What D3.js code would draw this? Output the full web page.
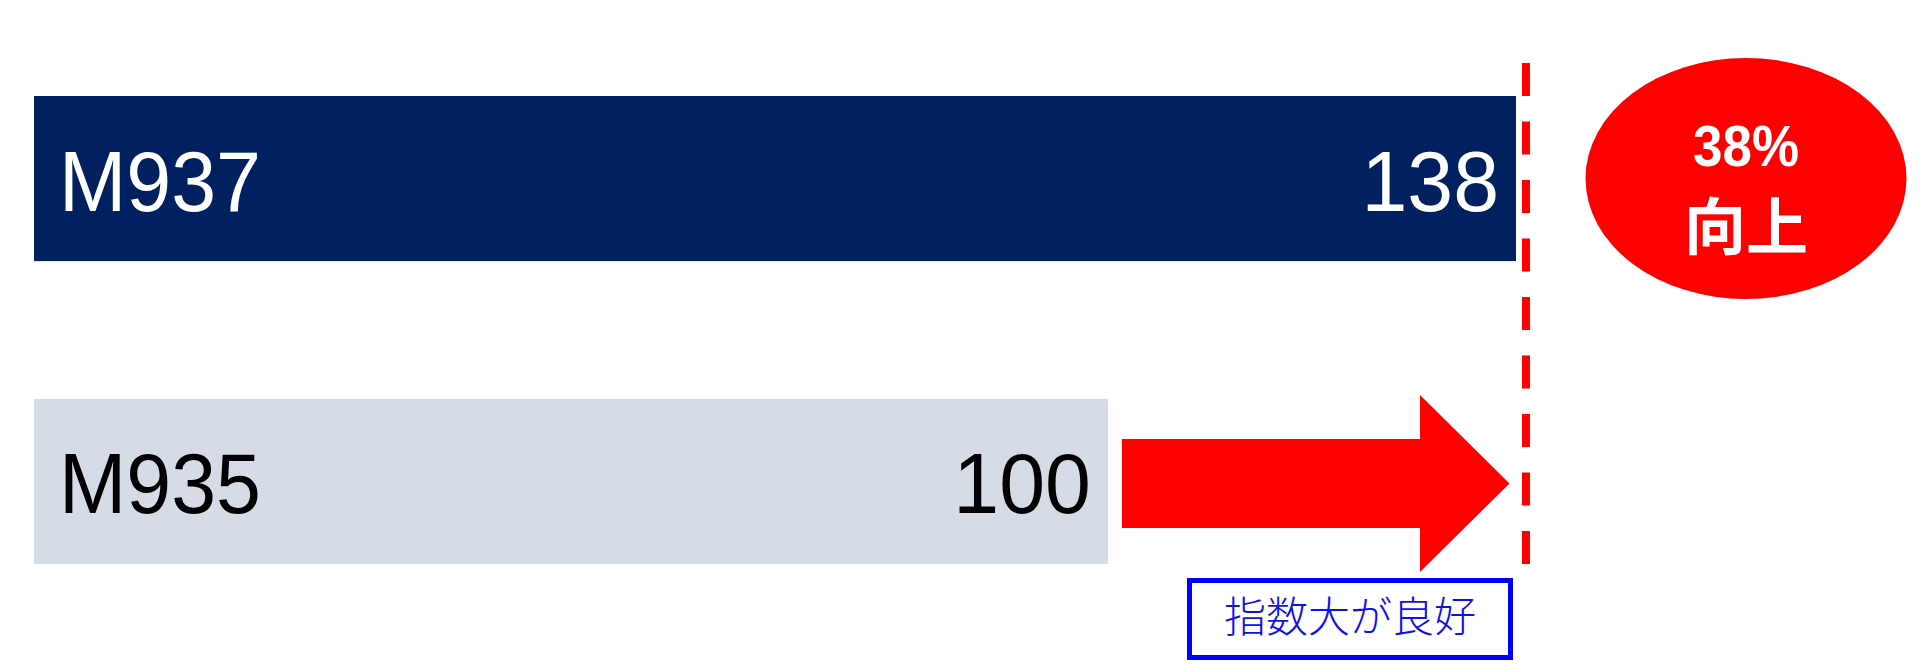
<!DOCTYPE html>
<html>
<head>
<meta charset="utf-8">
<script src="https://cdn.jsdelivr.net/npm/d3@7"></script>
<style>
  html, body { margin: 0; padding: 0; background: #ffffff; }
  svg { display: block; }
</style>
</head>
<body>
<script>
// ---- data ----
const categories = ["M937", "M935"];
const values = [138, 100];
const barColors = ["#002060", "#d6dce5"];
const labelColors = ["#ffffff", "#000000"];
const badgeLines = ["38%", "向上"];
const noteText = "指数大が良好";

// ---- layout ----
const W = 1920, H = 669;
const svg = d3.select("body").append("svg").attr("width", W).attr("height", H);

const x = d3.scaleLinear().domain([0, 138]).range([34, 1516]);
const y = d3.scaleBand().domain(categories).range([96, 564]).paddingInner(0.455).paddingOuter(0);

const rows = categories.map((c, i) => ({ cat: c, val: values[i], color: barColors[i], tc: labelColors[i] }));

// bars
svg.selectAll("rect.bar").data(rows).enter().append("rect")
  .attr("class", "bar")
  .attr("x", x(0))
  .attr("y", d => y(d.cat))
  .attr("width", d => x(d.val) - x(0))
  .attr("height", y.bandwidth())
  .attr("fill", d => d.color);

function squeeze(sel, k) {
  sel.each(function () {
    const len = this.getComputedTextLength();
    d3.select(this).attr("textLength", len * k).attr("lengthAdjust", "spacingAndGlyphs");
  });
}

// category labels
svg.selectAll("text.cat").data(rows).enter().append("text")
  .attr("class", "cat")
  .attr("x", x(0) + 25)
  .attr("y", d => y(d.cat) + y.bandwidth() / 2 + 32)
  .attr("font-family", "Liberation Sans, Arial, sans-serif")
  .attr("font-size", 85)
  .attr("fill", d => d.tc)
  .text(d => d.cat)
  .call(squeeze, 0.95);

// value labels
svg.selectAll("text.val").data(rows).enter().append("text")
  .attr("class", "val")
  .attr("x", d => x(d.val) - 17)
  .attr("y", d => y(d.cat) + y.bandwidth() / 2 + 32)
  .attr("text-anchor", "end")
  .attr("font-family", "Liberation Sans, Arial, sans-serif")
  .attr("font-size", 85)
  .attr("fill", d => d.tc)
  .text(d => d.val)
  .call(squeeze, 0.97);

// dashed reference line at top value
const lineX = x(values[0]) + 10;
svg.append("line")
  .attr("x1", lineX).attr("x2", lineX)
  .attr("y1", 63).attr("y2", 564)
  .attr("stroke", "#ff0000")
  .attr("stroke-width", 8)
  .attr("stroke-dasharray", "33,25.5");

// arrow from bottom value to top value
const yc = y(categories[1]) + y.bandwidth() / 2 + 2;
const ax0 = x(values[1]) + 14, ax1 = x(values[0]) - 6.5, headX = ax1 - 89.5;
const shaftH = 44.5, headH = 88.5;
svg.append("path")
  .attr("d", d3.line()([
    [ax0, yc - shaftH], [headX, yc - shaftH], [headX, yc - headH], [ax1, yc],
    [headX, yc + headH], [headX, yc + shaftH], [ax0, yc + shaftH]
  ]) + "Z")
  .attr("fill", "#ff0000");

// badge ellipse
const ecx = 1746, ecy = y(categories[0]) + y.bandwidth() / 2;
svg.append("ellipse")
  .attr("cx", ecx).attr("cy", ecy)
  .attr("rx", 160.5).attr("ry", 120.5)
  .attr("fill", "#ff0000");

svg.append("text")
  .attr("x", ecx).attr("y", 165.5)
  .attr("text-anchor", "middle")
  .attr("font-family", "Liberation Sans, Arial, sans-serif")
  .attr("font-weight", "bold")
  .attr("font-size", 58)
  .attr("fill", "#ffffff")
  .attr("textLength", 106)
  .attr("lengthAdjust", "spacingAndGlyphs")
  .text(badgeLines[0]);

svg.append("text")
  .attr("x", ecx).attr("y", 250)
  .attr("text-anchor", "middle")
  .attr("font-family", "Noto Sans CJK JP, sans-serif")
  .attr("font-weight", "bold")
  .attr("font-size", 62)
  .attr("fill", "#ffffff")
  .text(badgeLines[1]);

// note box
svg.append("rect")
  .attr("x", 1189.5).attr("y", 580.5)
  .attr("width", 321).attr("height", 77)
  .attr("fill", "#ffffff")
  .attr("stroke", "#0000ff")
  .attr("stroke-width", 5);

svg.append("text")
  .attr("x", 1350).attr("y", 632)
  .attr("text-anchor", "middle")
  .attr("font-family", "Noto Sans CJK JP, sans-serif")
  .attr("font-weight", 300)
  .attr("font-size", 42)
  .attr("fill", "#1010e8")
  .text(noteText);
</script>
</body>
</html>
